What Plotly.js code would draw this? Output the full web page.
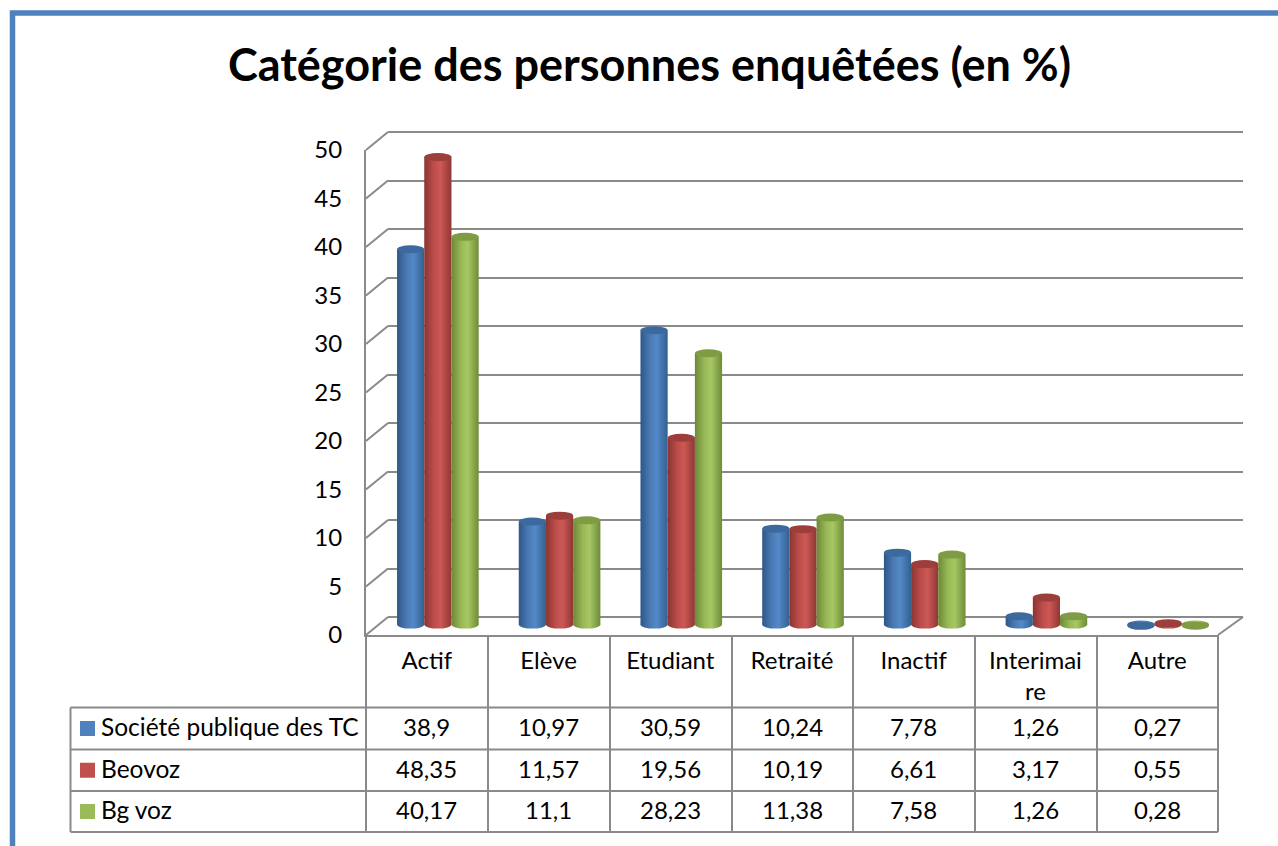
<!DOCTYPE html>
<html>
<head>
<meta charset="utf-8">
<script src="https://cdn.plot.ly/plotly-3.0.1.min.js"></script>
<style>
	html, body { margin: 0; padding: 0; background: #fff; overflow: hidden; }
	#chart1 { width: 1278px; height: 846px; }
</style>
</head>
<body>
<div id="chart1"></div>
<script>
// data
var categories = ['Actif', 'Elève', 'Etudiant', 'Retraité', 'Inactif', 'Interimaire', 'Autre'];
var categoryLabels = ['Actif', 'Elève', 'Etudiant', 'Retraité', 'Inactif', 'Interimai<br>re', 'Autre'];
var seriesNames = ['Société publique des TC', 'Beovoz', 'Bg voz'];
var societe = [38.9, 10.97, 30.59, 10.24, 7.78, 1.26, 0.27];
var beovoz = [48.35, 11.57, 19.56, 10.19, 6.61, 3.17, 0.55];
var bgvoz = [40.17, 11.1, 28.23, 11.38, 7.58, 1.26, 0.28];
var yTicks = [0, 5, 10, 15, 20, 25, 30, 35, 40, 45, 50];

var seriesValues = [societe, beovoz, bgvoz];
var baseColors = ['#4F81BD', '#C0504D', '#9BBB59'];
var capColors = ['#3D6A9E', '#9C3F3C', '#7F9C45'];
var gradientStops = [
	['#2D5788', '#4A7AB4', '#5389C8', '#33608F'],
	['#8A3432', '#BC4D4A', '#CD5855', '#8E3735'],
	['#6C8835', '#98B856', '#A6C863', '#6F8B38']
];

var WIDTH = 1278;
var HEIGHT = 846;
var GRID = '#8A8A8A';
var FONT = 'Lato, "Open Sans", sans-serif';
var TABLE_SIZE = 24;

// pixel helpers, the layout uses no margin so paper == page
function px(x) { return x / WIDTH; }
function py(y) { return 1 - y / HEIGHT; }

var rowLines = [707.5, 749.5, 791, 832];
var colLines = [366, 488, 610, 732, 853, 975, 1097, 1218];
var BAR_W = 27.2 / 121.7;

// bars stand a little above the zero of their scale, like in the 3d view
var BAR_BASE = 0.4;
var BAR_ZERO_Y = 628.5;
var BAR_SCALE = 9.75;

function line(x0, y0, x1, y1) {
	return {
		type: 'line', xref: 'paper', yref: 'paper', layer: 'below',
		x0: px(x0), y0: py(y0), x1: px(x1), y1: py(y1),
		line: { color: GRID, width: 2 }
	};
}

function buildShapes() {
	var shapes = [];

	// page frame
	shapes.push({
		type: 'path', xref: 'paper', yref: 'paper', layer: 'below',
		path: 'M ' + px(12.5) + ' 0 L ' + px(12.5) + ' ' + py(13) + ' L 1 ' + py(13),
		line: { color: '#4F81BD', width: 5.5 }
	});

	// side wall steps and right side of the floor
	for (var t of yTicks) {
		var yFront = 635 - t * 9.7;
		shapes.push(line(366, yFront, 388, yFront - 18));
	}
	shapes.push(line(1218, 635, 1243, 617));

	// data table
	for (var c of colLines) {
		shapes.push(line(c, 635, c, 832));
	}
	for (var r of rowLines) {
		shapes.push(line(70.5, r, 1218, r));
	}
	shapes.push(line(70.5, 707.5, 70.5, 832));

	// legend keys in the table
	seriesNames.forEach(function (name, s) {
		var yMid = (rowLines[s] + rowLines[s + 1]) / 2;
		shapes.push({
			type: 'rect', xref: 'paper', yref: 'paper', layer: 'above',
			x0: px(80), x1: px(95), y0: py(yMid - 7.5), y1: py(yMid + 7.5),
			fillcolor: baseColors[s], line: { width: 0 }
		});
	});

	// cylinder ends, anchored to the bar scale
	seriesValues.forEach(function (values, s) {
		values.forEach(function (v, i) {
			var xPos = i + (s - 1) * BAR_W;
			shapes.push({
				type: 'circle', xref: 'x2', yref: 'y2', layer: 'below',
				xsizemode: 'pixel', ysizemode: 'pixel',
				xanchor: xPos, yanchor: BAR_BASE,
				x0: -13.6, x1: 13.6, y0: -4, y1: 4,
				fillcolor: baseColors[s], line: { width: 0 }
			});
			shapes.push({
				type: 'circle', xref: 'x2', yref: 'y2', layer: 'above',
				xsizemode: 'pixel', ysizemode: 'pixel',
				xanchor: xPos, yanchor: v,
				x0: -13.6, x1: 13.6, y0: -4, y1: 4,
				fillcolor: capColors[s], line: { width: 0 }
			});
		});
	});

	return shapes;
}

function buildAnnotations() {
	var annotations = [];

	seriesNames.forEach(function (name, s) {
		var yMid = (rowLines[s] + rowLines[s + 1]) / 2;
		annotations.push({
			xref: 'paper', yref: 'paper', x: px(99), y: py(yMid - 2),
			xanchor: 'left', yanchor: 'middle', showarrow: false,
			text: name, font: { family: FONT, size: 24.5, color: '#000' }
		});
		seriesValues[s].forEach(function (v, i) {
			annotations.push({
				xref: 'x3', yref: 'paper', x: categories[i], y: py(yMid - 2),
				xanchor: 'center', yanchor: 'middle', showarrow: false,
				text: String(v).replace('.', ','),
				font: { family: FONT, size: TABLE_SIZE, color: '#000' }
			});
		});
	});

	return annotations;
}

var data = [];

// back wall, only there to carry the grid
data.push({
	type: 'scatter', mode: 'none', x: categories, y: societe,
	xaxis: 'x', yaxis: 'y', showlegend: false, hoverinfo: 'skip'
});

seriesNames.forEach(function (name, s) {
	data.push({
		type: 'bar', name: name, x: categories,
		y: seriesValues[s].map(function (v) { return v - BAR_BASE; }),
		base: BAR_BASE,
		xaxis: 'x2', yaxis: 'y2', showlegend: false,
		marker: { color: baseColors[s], line: { width: 0 } }
	});
});

// front axes, labels and table columns
data.push({
	type: 'scatter', mode: 'none', x: categories, y: societe,
	xaxis: 'x3', yaxis: 'y3', showlegend: false, hoverinfo: 'skip'
});

var layout = {
	width: WIDTH,
	height: HEIGHT,
	margin: { l: 0, r: 0, t: 0, b: 0, pad: 0 },
	paper_bgcolor: '#fff',
	plot_bgcolor: 'rgba(0,0,0,0)',
	showlegend: false,
	barmode: 'group',
	bargap: 1 - 3 * BAR_W,
	bargroupgap: 0,
	title: {
		text: '<b>Catégorie des personnes enquêtées (en %)</b>',
		x: px(649.5), xref: 'paper', xanchor: 'center',
		y: py(65), yref: 'paper', yanchor: 'middle',
		font: { family: FONT, size: 45, color: '#000' }
	},
	// back wall, range runs past 0 and 50 so both end lines are drawn
	xaxis: {
		domain: [px(388), px(1243)], anchor: 'y', visible: false,
		categoryorder: 'array', categoryarray: categories, fixedrange: true
	},
	yaxis: {
		domain: [py(617 + 9.7), py(132 - 9.7)], anchor: 'x', range: [-1, 51],
		tickvals: yTicks, showticklabels: false, ticks: '',
		showgrid: true, gridcolor: GRID, gridwidth: 2,
		zeroline: false, showline: false, fixedrange: true
	},
	// bars
	xaxis2: {
		domain: [px(377), px(1229)], anchor: 'y2', visible: false,
		range: [-0.5, 6.5], type: 'category',
		categoryorder: 'array', categoryarray: categories, fixedrange: true
	},
	yaxis2: {
		domain: [py(BAR_ZERO_Y + 2 * BAR_SCALE), py(BAR_ZERO_Y - 52 * BAR_SCALE)],
		anchor: 'x2', range: [-2, 52],
		visible: false, showgrid: false, zeroline: false, fixedrange: true
	},
	// front
	xaxis3: {
		domain: [px(366), px(1218)], anchor: 'y3',
		range: [-0.5, 6.5], type: 'category',
		categoryorder: 'array', categoryarray: categories,
		tickmode: 'array', tickvals: categories, ticktext: categoryLabels,
		tickangle: 0, ticks: '', showgrid: false, zeroline: false,
		showline: true, linecolor: GRID, linewidth: 2,
		ticklabelstandoff: 3,
		tickfont: { family: FONT, size: TABLE_SIZE, color: '#000' },
		fixedrange: true
	},
	yaxis3: {
		domain: [py(635), py(150)], anchor: 'x3', range: [0, 50],
		tickvals: yTicks, ticks: '', showgrid: false, zeroline: false,
		showline: true, linecolor: GRID, linewidth: 2,
		ticklabelstandoff: 17,
		tickfont: { family: FONT, size: 24, color: '#000' },
		fixedrange: true
	},
	shapes: buildShapes(),
	annotations: buildAnnotations()
};

// the bars and their bases get a horizontal shading to look like cylinders
function addCylinderShading(gd) {
	var svg = gd.querySelector('.main-svg');
	var ns = 'http://www.w3.org/2000/svg';
	var defs = svg.querySelector('defs');

	gradientStops.forEach(function (stops, s) {
		var grad = document.createElementNS(ns, 'linearGradient');
		grad.setAttribute('id', 'cyl' + s);
		var offsets = [0, 0.35, 0.6, 1];
		stops.forEach(function (col, k) {
			var stop = document.createElementNS(ns, 'stop');
			stop.setAttribute('offset', offsets[k]);
			stop.setAttribute('stop-color', col);
			grad.appendChild(stop);
		});
		defs.appendChild(grad);
	});

	gd.querySelectorAll('.barlayer .trace').forEach(function (trace, s) {
		trace.querySelectorAll('.point path').forEach(function (p) {
			p.style.fill = 'url(#cyl' + s + ')';
		});
	});

	gd.querySelectorAll('.shapelayer path').forEach(function (p) {
		var fill = p.style.fill;
		baseColors.forEach(function (col, s) {
			var probe = document.createElement('div');
			probe.style.color = col;
			if (fill === probe.style.color && p.getBBox().x >= 366) {
				p.style.fill = 'url(#cyl' + s + ')';
			}
		});
	});
}

Plotly.newPlot('chart1', data, layout, { displayModeBar: false, staticPlot: true })
	.then(addCylinderShading)
	.catch(function (e) {
		console.error('PLOT', e);
	});
</script>
</body>
</html>
